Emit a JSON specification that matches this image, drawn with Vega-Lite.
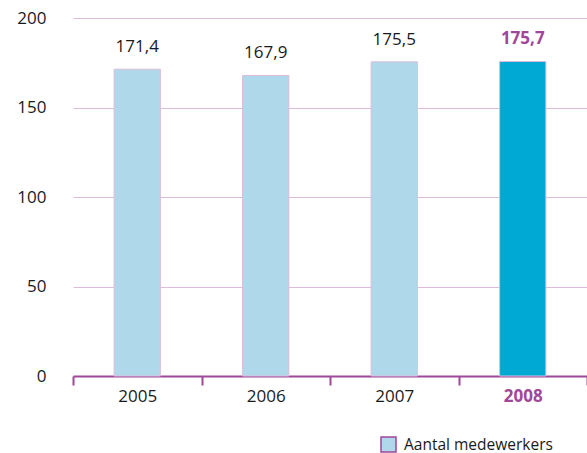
{
  "$schema": "https://vega.github.io/schema/vega-lite/v6.json",
  "width": 514,
  "height": 358,
  "autosize": "none",
  "padding": {"left": 73, "top": 18, "right": 0, "bottom": 77},
  "config": {"view": {"stroke": null}},
  "data": {
    "values": [
      {"year": "2005", "value": 171.4, "label": "171,4"},
      {"year": "2006", "value": 167.9, "label": "167,9"},
      {"year": "2007", "value": 175.5, "label": "175,5"},
      {"year": "2008", "value": 175.7, "label": "175,7"}
    ]
  },
  "encoding": {
    "x": {
      "field": "year",
      "type": "nominal",
      "title": null,
      "scale": {"paddingInner": 0, "paddingOuter": 0},
      "axis": {
        "labelAngle": 0,
        "tickBand": "extent",
        "domainColor": "#A0479A",
        "domainWidth": 2,
        "tickColor": "#A0479A",
        "tickWidth": 2,
        "tickSize": 9,
        "labelPadding": 3,
        "labelFontSize": 17,
        "labelFont": "Open Sans",
        "labelColor": {"condition": {"test": "datum.value == '2008'", "value": "#A0479A"}, "value": "#1a1a1a"},
        "labelFontWeight": {"condition": {"test": "datum.value == '2008'", "value": "bold"}, "value": "normal"},
        "grid": false
      }
    },
    "y": {
      "field": "value",
      "type": "quantitative",
      "title": null,
      "scale": {"domain": [0, 200]},
      "axis": {
        "values": [0, 50, 100, 150, 200],
        "domain": false,
        "ticks": false,
        "labelPadding": 27,
        "labelFontSize": 17,
        "labelFont": "Open Sans",
        "labelColor": "#1a1a1a",
        "gridColor": "#DDBCDA",
        "gridWidth": 1
      }
    }
  },
  "layer": [
    {
      "mark": {"type": "bar", "stroke": "#DDBCDA", "strokeWidth": 1, "width": {"band": 0.36}},
      "encoding": {
        "color": {
          "condition": {"test": "datum.year == '2008'", "value": "#00A8D4"},
          "datum": "Aantal medewerkers",
          "scale": {"range": ["#AFD8EA"]},
          "legend": {
            "title": null,
            "orient": "none",
            "legendX": 307,
            "legendY": 418,
            "symbolType": "square",
            "symbolSize": 225,
            "symbolStrokeColor": "#A0479A",
            "symbolStrokeWidth": 1.5,
            "labelFontSize": 15.5,
            "labelFont": "Open Sans",
            "labelColor": "#1a1a1a",
            "labelOffset": 7
          }
        }
      }
    },
    {
      "transform": [{"filter": "datum.year != '2008'"}],
      "mark": {"type": "text", "baseline": "bottom", "dy": -13, "fontSize": 17, "font": "Open Sans", "color": "#1a1a1a"},
      "encoding": {"text": {"field": "label"}}
    },
    {
      "transform": [{"filter": "datum.year == '2008'"}],
      "mark": {"type": "text", "baseline": "bottom", "dy": -13, "fontSize": 17, "font": "Open Sans", "fontWeight": "bold", "color": "#A0479A"},
      "encoding": {"text": {"field": "label"}}
    }
  ]
}
